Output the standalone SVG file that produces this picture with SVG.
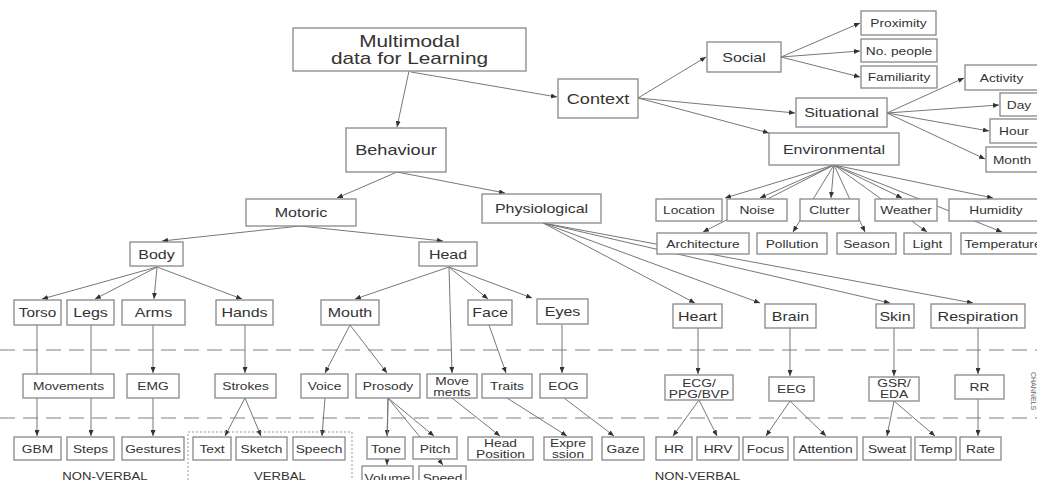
<svg xmlns="http://www.w3.org/2000/svg" width="1037" height="480" viewBox="0 0 1037 480">
<defs>
<marker id="ah" markerWidth="6" markerHeight="5" refX="6" refY="2.5" orient="auto" markerUnits="userSpaceOnUse"><path d="M0,0 L6,2.5 L0,5 z" fill="#333"/></marker>
<style>
rect{fill:#fff;stroke:#888;stroke-width:1.3}
text{font-family:"Liberation Sans",Arial,sans-serif;fill:#333;text-anchor:middle}
.L{font-size:14.5px}.X{font-size:16px}.M{font-size:12.8px}.S{font-size:11px}.T{font-size:10.5px}
#connectors line{stroke:#777;stroke-width:1;marker-end:url(#ah)}
.dash{stroke:#aaa;stroke-width:1.5;stroke-dasharray:15 8;fill:none}
.dot{fill:none;stroke:#999;stroke-width:1;stroke-dasharray:2 2}
</style>
</defs>
<rect x="0" y="0" width="1037" height="480" style="fill:#fff;stroke:none"/>
<line class="dash" x1="0" y1="350" x2="1037" y2="350"/>
<line class="dash" x1="0" y1="418" x2="1037" y2="418"/>
<g id="connectors">
<line x1="409" y1="71" x2="397" y2="127"/>
<line x1="411" y1="72" x2="557" y2="97"/>
<line x1="638" y1="98" x2="706" y2="57"/>
<line x1="638" y1="98" x2="795" y2="113"/>
<line x1="638" y1="98" x2="769" y2="133"/>
<line x1="781" y1="57" x2="860" y2="23"/>
<line x1="781" y1="57" x2="860" y2="51"/>
<line x1="781" y1="57" x2="860" y2="77"/>
<line x1="887" y1="113" x2="964" y2="78"/>
<line x1="887" y1="113" x2="999" y2="105"/>
<line x1="887" y1="113" x2="989" y2="131"/>
<line x1="887" y1="113" x2="985" y2="159"/>
<line x1="834" y1="165" x2="725" y2="198"/>
<line x1="834" y1="165" x2="760" y2="198"/>
<line x1="834" y1="165" x2="703" y2="232"/>
<line x1="834" y1="165" x2="831" y2="198"/>
<line x1="834" y1="165" x2="793" y2="232"/>
<line x1="834" y1="165" x2="865" y2="232"/>
<line x1="834" y1="165" x2="902" y2="198"/>
<line x1="834" y1="165" x2="927" y2="232"/>
<line x1="834" y1="165" x2="993" y2="198"/>
<line x1="834" y1="165" x2="1002" y2="232"/>
<line x1="397" y1="172" x2="337" y2="198"/>
<line x1="397" y1="172" x2="505" y2="193"/>
<line x1="300" y1="226" x2="162" y2="241"/>
<line x1="300" y1="226" x2="443" y2="241"/>
<line x1="157" y1="267" x2="42" y2="299"/>
<line x1="157" y1="267" x2="95" y2="299"/>
<line x1="157" y1="267" x2="154" y2="299"/>
<line x1="157" y1="267" x2="242" y2="299"/>
<line x1="449" y1="267" x2="355" y2="299"/>
<line x1="449" y1="267" x2="488" y2="299"/>
<line x1="449" y1="267" x2="532" y2="298"/>
<line x1="449" y1="267" x2="452" y2="373"/>
<line x1="543" y1="223" x2="695" y2="303"/>
<line x1="543" y1="223" x2="760" y2="303"/>
<line x1="543" y1="223" x2="890" y2="303"/>
<line x1="543" y1="223" x2="973" y2="303"/>
<line x1="37" y1="325" x2="37" y2="436"/>
<line x1="91" y1="325" x2="91" y2="436"/>
<line x1="153" y1="325" x2="153" y2="373"/>
<line x1="153" y1="398" x2="153" y2="436"/>
<line x1="245" y1="325" x2="245" y2="373"/>
<line x1="245" y1="398" x2="225" y2="436"/>
<line x1="245" y1="398" x2="261" y2="436"/>
<line x1="350" y1="325" x2="325" y2="373"/>
<line x1="350" y1="325" x2="387" y2="373"/>
<line x1="325" y1="398" x2="322" y2="436"/>
<line x1="388" y1="398" x2="387" y2="436"/>
<line x1="388" y1="398" x2="387" y2="465"/>
<line x1="388" y1="398" x2="434" y2="436"/>
<line x1="388" y1="398" x2="443" y2="465"/>
<line x1="452" y1="398" x2="500" y2="436"/>
<line x1="489" y1="325" x2="506" y2="373"/>
<line x1="507" y1="398" x2="567" y2="436"/>
<line x1="562" y1="325" x2="562" y2="373"/>
<line x1="564" y1="398" x2="614" y2="436"/>
<line x1="698" y1="328" x2="698" y2="374"/>
<line x1="699" y1="400" x2="673" y2="436"/>
<line x1="699" y1="400" x2="717" y2="436"/>
<line x1="790" y1="328" x2="790" y2="376"/>
<line x1="790" y1="401" x2="766" y2="436"/>
<line x1="790" y1="401" x2="826" y2="436"/>
<line x1="894" y1="328" x2="894" y2="376"/>
<line x1="894" y1="401" x2="887" y2="436"/>
<line x1="894" y1="401" x2="935" y2="436"/>
<line x1="978" y1="328" x2="978" y2="374"/>
<line x1="978" y1="399" x2="978" y2="436"/>
</g>
<g id="n-root"><rect x="293" y="28" width="233" height="43"/><text class="X" transform="translate(409.5,46.5) scale(1.3,1)">Multimodal</text><text class="X" transform="translate(409.5,64) scale(1.3,1)">data for Learning</text></g>
<g id="n-context"><rect x="558" y="79" width="80" height="39"/><text class="L" transform="translate(598,103.5) scale(1.25,1)">Context</text></g>
<g id="n-behaviour"><rect x="346" y="128" width="100" height="44"/><text class="L" transform="translate(396,155) scale(1.25,1)">Behaviour</text></g>
<g id="n-social"><rect x="707" y="42" width="74" height="30"/><text class="M" transform="translate(744,61.5) scale(1.25,1)">Social</text></g>
<g id="n-situational"><rect x="796" y="98" width="91" height="29"/><text class="M" transform="translate(841.5,117) scale(1.25,1)">Situational</text></g>
<g id="n-environmental"><rect x="769" y="133" width="130" height="32"/><text class="M" transform="translate(834,153.5) scale(1.25,1)">Environmental</text></g>
<g id="n-proximity"><rect x="861" y="11" width="75" height="24"/><text class="S" transform="translate(898.5,27) scale(1.25,1)">Proximity</text></g>
<g id="n-nopeople"><rect x="861" y="39" width="76" height="23"/><text class="S" transform="translate(899,54.5) scale(1.25,1)">No. people</text></g>
<g id="n-familiarity"><rect x="861" y="66" width="76" height="22"/><text class="S" transform="translate(899,81) scale(1.25,1)">Familiarity</text></g>
<g id="n-activity"><rect x="965" y="65" width="75" height="25"/><text class="S" transform="translate(1001.5,81.5) scale(1.25,1)">Activity</text></g>
<g id="n-day"><rect x="1000" y="93" width="40" height="23"/><text class="S" transform="translate(1019,108.5) scale(1.25,1)">Day</text></g>
<g id="n-hour"><rect x="990" y="119" width="50" height="24"/><text class="S" transform="translate(1014,135) scale(1.25,1)">Hour</text></g>
<g id="n-month"><rect x="986" y="147" width="54" height="25"/><text class="S" transform="translate(1012,163.5) scale(1.25,1)">Month</text></g>
<g id="n-location"><rect x="656" y="199" width="66" height="22"/><text class="S" transform="translate(689,214) scale(1.25,1)">Location</text></g>
<g id="n-noise"><rect x="727" y="199" width="60" height="22"/><text class="S" transform="translate(757,214) scale(1.25,1)">Noise</text></g>
<g id="n-clutter"><rect x="800" y="199" width="59" height="22"/><text class="S" transform="translate(829.5,214) scale(1.25,1)">Clutter</text></g>
<g id="n-weather"><rect x="875" y="199" width="62" height="22"/><text class="S" transform="translate(906,214) scale(1.25,1)">Weather</text></g>
<g id="n-humidity"><rect x="949" y="199" width="91" height="22"/><text class="S" transform="translate(996,214) scale(1.25,1)">Humidity</text></g>
<g id="n-architecture"><rect x="657" y="233" width="92" height="21"/><text class="S" transform="translate(703,247.5) scale(1.25,1)">Architecture</text></g>
<g id="n-pollution"><rect x="757" y="233" width="70" height="21"/><text class="S" transform="translate(792,247.5) scale(1.25,1)">Pollution</text></g>
<g id="n-season"><rect x="837" y="233" width="59" height="21"/><text class="S" transform="translate(866.5,247.5) scale(1.25,1)">Season</text></g>
<g id="n-light"><rect x="904" y="233" width="47" height="21"/><text class="S" transform="translate(927.5,247.5) scale(1.25,1)">Light</text></g>
<g id="n-temperature"><rect x="961" y="233" width="80" height="21"/><text class="S" transform="translate(1003,247.5) scale(1.25,1)">Temperature</text></g>
<g id="n-motoric"><rect x="246" y="199" width="110" height="27"/><text class="M" transform="translate(301,217) scale(1.25,1)">Motoric</text></g>
<g id="n-physiological"><rect x="482" y="194" width="119" height="29"/><text class="M" transform="translate(541.5,213) scale(1.25,1)">Physiological</text></g>
<g id="n-body"><rect x="130" y="242" width="53" height="24"/><text class="M" transform="translate(156.5,258.5) scale(1.25,1)">Body</text></g>
<g id="n-head"><rect x="419" y="242" width="58" height="24"/><text class="M" transform="translate(448,258.5) scale(1.25,1)">Head</text></g>
<g id="n-torso"><rect x="14" y="300" width="47" height="25"/><text class="M" transform="translate(37.5,317) scale(1.2,1)">Torso</text></g>
<g id="n-legs"><rect x="67" y="300" width="47" height="25"/><text class="M" transform="translate(90.5,317) scale(1.25,1)">Legs</text></g>
<g id="n-arms"><rect x="122" y="300" width="63" height="25"/><text class="M" transform="translate(153.5,317) scale(1.25,1)">Arms</text></g>
<g id="n-hands"><rect x="216" y="300" width="57" height="25"/><text class="M" transform="translate(244.5,317) scale(1.25,1)">Hands</text></g>
<g id="n-mouth"><rect x="321" y="300" width="58" height="25"/><text class="M" transform="translate(350,317) scale(1.25,1)">Mouth</text></g>
<g id="n-face"><rect x="468" y="300" width="44" height="25"/><text class="M" transform="translate(490,317) scale(1.25,1)">Face</text></g>
<g id="n-eyes"><rect x="537" y="299" width="51" height="25"/><text class="M" transform="translate(562.5,316) scale(1.25,1)">Eyes</text></g>
<g id="n-heart"><rect x="673" y="304" width="49" height="24"/><text class="M" transform="translate(697.5,320.5) scale(1.25,1)">Heart</text></g>
<g id="n-brain"><rect x="765" y="304" width="51" height="24"/><text class="M" transform="translate(790.5,320.5) scale(1.25,1)">Brain</text></g>
<g id="n-skin"><rect x="876" y="304" width="38" height="24"/><text class="M" transform="translate(895,320.5) scale(1.25,1)">Skin</text></g>
<g id="n-respiration"><rect x="931" y="304" width="94" height="24"/><text class="M" transform="translate(978,320.5) scale(1.25,1)">Respiration</text></g>
<g id="n-movements"><rect x="23" y="374" width="91" height="24"/><text class="S" transform="translate(68.5,390) scale(1.25,1)">Movements</text></g>
<g id="n-emg"><rect x="127" y="374" width="52" height="24"/><text class="S" transform="translate(153,390) scale(1.25,1)">EMG</text></g>
<g id="n-strokes"><rect x="215" y="374" width="61" height="24"/><text class="S" transform="translate(245.5,390) scale(1.25,1)">Strokes</text></g>
<g id="n-voice"><rect x="301" y="374" width="47" height="24"/><text class="S" transform="translate(324.5,390) scale(1.25,1)">Voice</text></g>
<g id="n-prosody"><rect x="356" y="374" width="64" height="24"/><text class="S" transform="translate(388,390) scale(1.25,1)">Prosody</text></g>
<g id="n-headmove"><rect x="427" y="374" width="50" height="24"/><text class="S" transform="translate(452,385) scale(1.25,1)">Move</text><text class="S" transform="translate(452,396) scale(1.25,1)">ments</text></g>
<g id="n-traits"><rect x="482" y="374" width="50" height="24"/><text class="S" transform="translate(507,390) scale(1.25,1)">Traits</text></g>
<g id="n-eog"><rect x="540" y="374" width="47" height="24"/><text class="S" transform="translate(563.5,390) scale(1.25,1)">EOG</text></g>
<g id="n-ecg"><rect x="665" y="375" width="68" height="25"/><text class="S" transform="translate(699,386.5) scale(1.25,1)">ECG/</text><text class="S" transform="translate(699,397.5) scale(1.25,1)">PPG/BVP</text></g>
<g id="n-eeg"><rect x="769" y="377" width="45" height="24"/><text class="S" transform="translate(791.5,393) scale(1.25,1)">EEG</text></g>
<g id="n-gsr"><rect x="869" y="377" width="50" height="24"/><text class="S" transform="translate(894,387) scale(1.25,1)">GSR/</text><text class="S" transform="translate(894,398) scale(1.25,1)">EDA</text></g>
<g id="n-rr"><rect x="955" y="375" width="49" height="24"/><text class="S" transform="translate(979.5,391) scale(1.25,1)">RR</text></g>
<g id="n-gbm"><rect x="14" y="437" width="47" height="23"/><text class="S" transform="translate(37.5,452.5) scale(1.25,1)">GBM</text></g>
<g id="n-steps"><rect x="67" y="437" width="47" height="23"/><text class="S" transform="translate(90.5,452.5) scale(1.25,1)">Steps</text></g>
<g id="n-gestures"><rect x="122" y="437" width="62" height="23"/><text class="S" transform="translate(153,452.5) scale(1.25,1)">Gestures</text></g>
<g id="n-text"><rect x="193" y="437" width="38" height="23"/><text class="S" transform="translate(212,452.5) scale(1.25,1)">Text</text></g>
<g id="n-sketch"><rect x="236" y="437" width="51" height="23"/><text class="S" transform="translate(261.5,452.5) scale(1.25,1)">Sketch</text></g>
<g id="n-speech"><rect x="293" y="437" width="52" height="23"/><text class="S" transform="translate(319,452.5) scale(1.25,1)">Speech</text></g>
<g id="n-tone"><rect x="367" y="437" width="38" height="22"/><text class="S" transform="translate(386,452.5) scale(1.25,1)">Tone</text></g>
<g id="n-pitch"><rect x="413" y="437" width="44" height="22"/><text class="S" transform="translate(435,452.5) scale(1.25,1)">Pitch</text></g>
<g id="n-volume"><rect x="362" y="466" width="51" height="24"/><text class="S" transform="translate(387.5,482) scale(1.25,1)">Volume</text></g>
<g id="n-speed"><rect x="419" y="466" width="47" height="24"/><text class="S" transform="translate(442.5,482) scale(1.25,1)">Speed</text></g>
<g id="n-headpos"><rect x="468" y="437" width="65" height="23"/><text class="S" transform="translate(500.5,447) scale(1.25,1)">Head</text><text class="S" transform="translate(500.5,458) scale(1.25,1)">Position</text></g>
<g id="n-expression"><rect x="544" y="437" width="48" height="23"/><text class="S" transform="translate(568,447) scale(1.25,1)">Expre</text><text class="S" transform="translate(568,458) scale(1.25,1)">ssion</text></g>
<g id="n-gaze"><rect x="602" y="437" width="42" height="23"/><text class="S" transform="translate(623,452.5) scale(1.25,1)">Gaze</text></g>
<g id="n-hr"><rect x="656" y="437" width="36" height="23"/><text class="S" transform="translate(674,452.5) scale(1.25,1)">HR</text></g>
<g id="n-hrv"><rect x="697" y="437" width="42" height="23"/><text class="S" transform="translate(718,452.5) scale(1.25,1)">HRV</text></g>
<g id="n-focus"><rect x="743" y="437" width="45" height="23"/><text class="S" transform="translate(765.5,452.5) scale(1.25,1)">Focus</text></g>
<g id="n-attention"><rect x="794" y="437" width="63" height="23"/><text class="S" transform="translate(825.5,452.5) scale(1.25,1)">Attention</text></g>
<g id="n-sweat"><rect x="863" y="437" width="48" height="23"/><text class="S" transform="translate(887,452.5) scale(1.25,1)">Sweat</text></g>
<g id="n-temp"><rect x="915" y="437" width="41" height="23"/><text class="S" transform="translate(935.5,452.5) scale(1.25,1)">Temp</text></g>
<g id="n-rate"><rect x="960" y="437" width="41" height="23"/><text class="S" transform="translate(980.5,452.5) scale(1.25,1)">Rate</text></g>
<rect class="dot" x="188" y="432" width="164" height="60"/>
<g id="labels">
<text class="T" transform="translate(105,480) scale(1.25,1)">NON-VERBAL</text>
<text class="T" transform="translate(280,480) scale(1.25,1)">VERBAL</text>
<text class="T" transform="translate(697.5,480) scale(1.25,1)">NON-VERBAL</text>
<text style="font-size:7px;fill:#666;text-anchor:start" transform="translate(1031,372) rotate(90)">CHANNELS</text>
</g>
</svg>
